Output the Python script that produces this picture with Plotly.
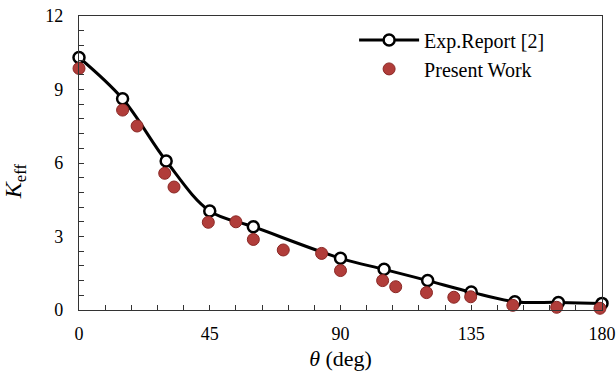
import plotly.graph_objects as go

exp_theta = [0, 15, 30, 45, 60, 90, 105, 120, 135, 150, 165, 180]
exp_keff = [10.31, 8.62, 6.08, 4.04, 3.40, 2.11, 1.66, 1.20, 0.73, 0.34, 0.31, 0.27]

pw_theta = [0, 15, 20, 29.5, 32.7, 44.5, 54, 60, 70.3, 83.5, 90, 104.5, 109, 119.6, 129, 134.8, 149.3, 164.4, 179.3]
pw_keff = [9.86, 8.16, 7.51, 5.58, 5.02, 3.58, 3.60, 2.88, 2.45, 2.31, 1.61, 1.20, 0.95, 0.71, 0.52, 0.54, 0.19, 0.11, 0.07]

x_ticks = [0, 45, 90, 135, 180]
y_ticks = [0, 3, 6, 9, 12]

FONT = "Liberation Serif"

fig = go.Figure()
fig.add_trace(go.Scatter(
    x=exp_theta, y=exp_keff, mode="lines+markers", name="Exp.Report [2]",
    line=dict(color="black", width=3, shape="spline", smoothing=1.0),
    marker=dict(symbol="circle", size=11, color="white", line=dict(color="black", width=2.5)),
    cliponaxis=False,
))
fig.add_trace(go.Scatter(
    x=pw_theta, y=pw_keff, mode="markers", name="Present Work",
    marker=dict(symbol="circle", size=12, color="#b13d3a", line=dict(color="#8a2724", width=1)),
    cliponaxis=False,
))

axis_common = dict(
    showgrid=False, zeroline=False, showline=True, linecolor="#333333", linewidth=1.2,
    mirror=True, ticks="inside", ticklen=5, tickwidth=1, tickcolor="#333333",
    tickfont=dict(family=FONT, size=18, color="black"), automargin=False,
    ticklabeloverflow="allow",
)
fig.update_xaxes(
    range=[0, 180], tickvals=x_ticks, ticktext=[str(v) for v in x_ticks],
    minor=dict(dtick=9, ticks="inside", ticklen=5, tickcolor="#333333"),
    ticklabelstandoff=7,
    title=dict(text="<i>θ</i> (deg)", font=dict(family=FONT, size=22, color="black"), standoff=20),
    **axis_common,
)
fig.update_yaxes(
    range=[0, 12], tickvals=y_ticks, ticktext=[str(v) for v in y_ticks],
    minor=dict(dtick=0.6, ticks="inside", ticklen=5, tickcolor="#333333"),
    ticklabelstandoff=11,
    title=dict(text="<i>K</i><sub>eff</sub>" + "&nbsp;" * 6,
               font=dict(family=FONT, size=24, color="black"), standoff=24),
    **axis_common,
)
fig.update_layout(
    width=616, height=371,
    margin=dict(l=79, r=14, t=16, b=61),
    paper_bgcolor="white", plot_bgcolor="white",
    showlegend=True,
    legend=dict(x=0.526, y=0.985, xanchor="left", yanchor="top", itemwidth=60,
                font=dict(family=FONT, size=20, color="black"),
                bgcolor="rgba(0,0,0,0)", tracegroupgap=0),
)
fig.write_html(
    "out.html",
    config={"displayModeBar": False},
    post_script="document.body.style.margin='0';document.body.style.overflow='hidden';",
)
